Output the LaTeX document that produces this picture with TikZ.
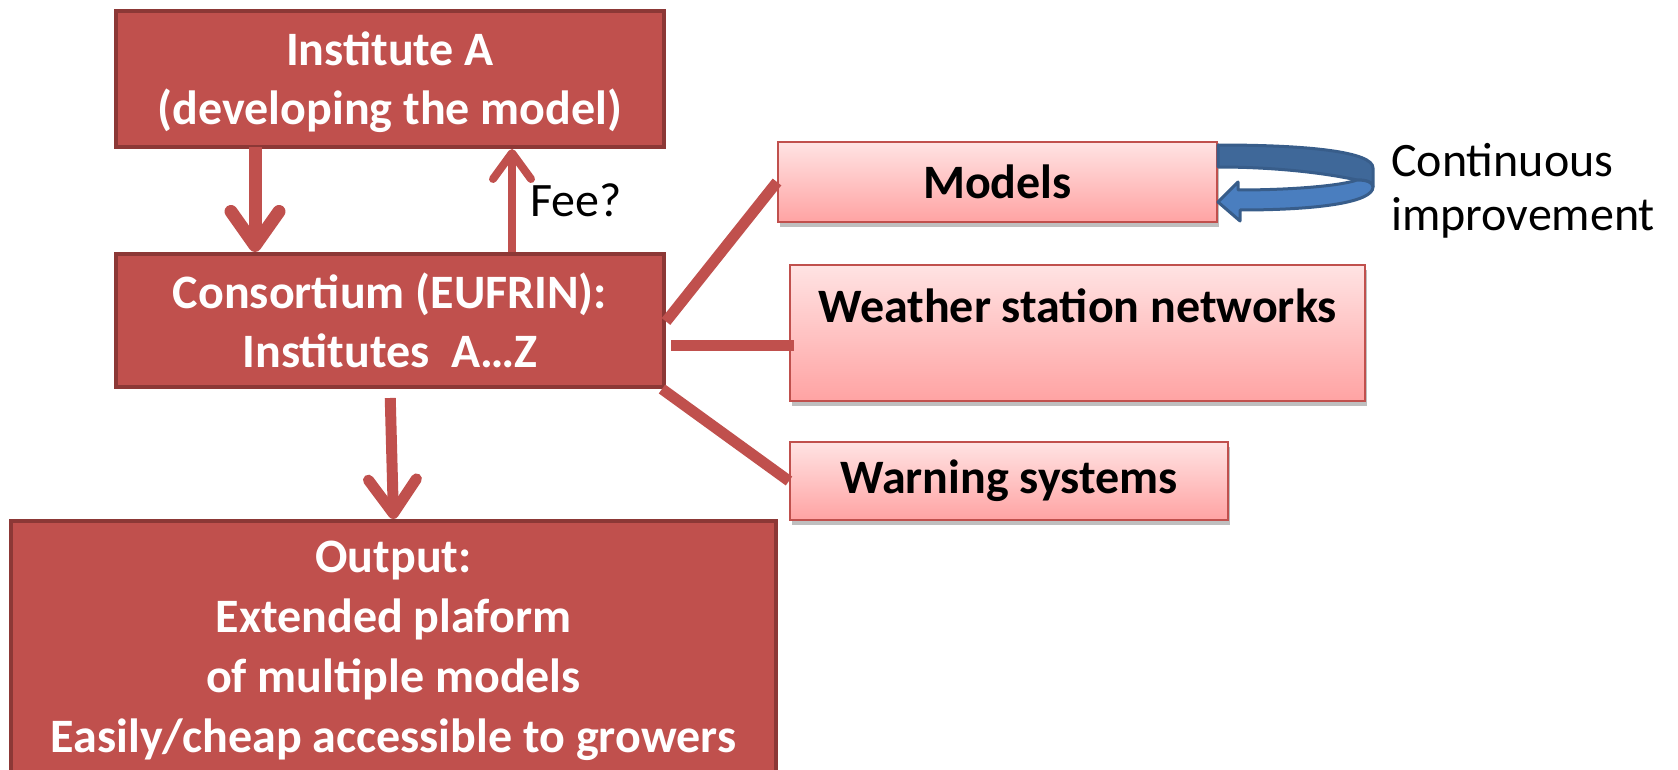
\documentclass[tikz,border=0pt]{standalone}
\usepackage{fontspec}
\setmainfont{Carlito}
\usetikzlibrary{arrows.meta,shadows,calc}
\definecolor{dred}{HTML}{C0504D}
\definecolor{dredb}{HTML}{8C3836}
\definecolor{pinkT}{HTML}{FFE3E3}
\definecolor{pinkB}{HTML}{FFA3A3}
\definecolor{blueF}{HTML}{4A7EBF}
\definecolor{blueD}{HTML}{385D8A}
\definecolor{blueB}{HTML}{3F6899}
\begin{document}
\begin{tikzpicture}[x=1pt,y=1pt,
  darkbox/.style={draw=dredb, line width=4pt, fill=dred, text=white,
    font=\fontsize{48}{59}\selectfont\bfseries, align=center, inner sep=0pt},
  pinkbox/.style={draw=dred, line width=2pt, top color=pinkT, bottom color=pinkB,
    font=\fontsize{48}{58}\selectfont\bfseries, align=center, inner sep=0pt,
    drop shadow={shadow xshift=2pt, shadow yshift=-5pt, opacity=0.25, fill=black}},
  plain/.style={font=\fontsize{48}{54}\selectfont, inner sep=0pt},
  bigarrow/.style={draw=dred, line width=13pt, -{Straight Barb[length=34pt,width=48pt,round]}},
  thinarrow/.style={draw=dred, line width=8pt, -{Straight Barb[length=26pt,width=38pt,round]}},
  link/.style={draw=dred, line width=11pt},
  blueedge/.style={draw=blueD, line width=3pt, line join=round}
]
\useasboundingbox (0,0) rectangle (1678,-770);

\node[darkbox, minimum width=548pt, minimum height=136pt] (inst) at (390,-79)
  {\rule{0pt}{40pt}Institute A\\(developing the model)};
\node[darkbox, minimum width=548pt, minimum height=133pt] (cons) at (390,-320.5)
  {Consortium (EUFRIN):\\Institutes\ \ A\dots Z};
\node[darkbox, minimum width=765pt, minimum height=254pt, font=\fontsize{48}{60}\selectfont\bfseries] (out) at (393.5,-648)
  {\rule{0pt}{37pt}Output:\\Extended plaform\\of multiple models\\Easily/cheap accessible to growers};

\node[pinkbox, minimum width=439pt, minimum height=80pt] (models) at (997.5,-182) {Models};
\node[pinkbox, minimum width=575pt, minimum height=136pt, text height=57pt, text depth=79pt] (weather) at (1077.5,-333)
  {Weather station networks};
\node[pinkbox, minimum width=438pt, minimum height=78pt] (warn) at (1009,-481) {Warning systems};

% arrows
\draw[bigarrow] ([xshift=-135pt,yshift=2pt]inst.south) -- ([xshift=-135pt]cons.north);
\draw[thinarrow] ([xshift=122pt]cons.north) -- ([xshift=122pt]inst.south)
  node[pos=0.5, right=14pt, plain] (fee) {Fee?};
\draw[draw=dred, line width=11pt, -{Straight Barb[length=34pt,width=48pt,round]}, shorten <=9pt] (cons.south) -- (out.north);

% links
\draw[link] ([yshift=-1pt]cons.east) -- (models.west);
\draw[link] ([xshift=5pt,yshift=-25pt]cons.east) -- ([xshift=5pt,yshift=-25pt]cons.east -| weather.west);
\draw[link] ([xshift=-4pt]cons.south east) -- (warn.west);

% curved arrow (back band, darker)
\path[fill=blueB, blueedge]
  (1218,-145) .. controls (1310,-145) and (1373,-152) .. (1373,-168)
  -- (1373,-187) .. controls (1373,-182) and (1366,-180) .. (1357,-180)
  .. controls (1320,-172) and (1270,-167) .. (1218,-167) -- cycle;
% front band with arrowhead
\path[fill=blueF, blueedge]
  (1373,-187) .. controls (1373,-202) and (1320,-210) .. (1240,-210)
  -- (1240,-221) -- (1218,-202) -- (1238,-182) -- (1238,-190)
  .. controls (1290,-190) and (1340,-186) .. (1357,-180)
  .. controls (1366,-180) and (1373,-182) .. (1373,-187) -- cycle;

\node[plain, anchor=west, align=left] (ci) at (1391,-191) {Continuous\\improvement};
\end{tikzpicture}
\end{document}
